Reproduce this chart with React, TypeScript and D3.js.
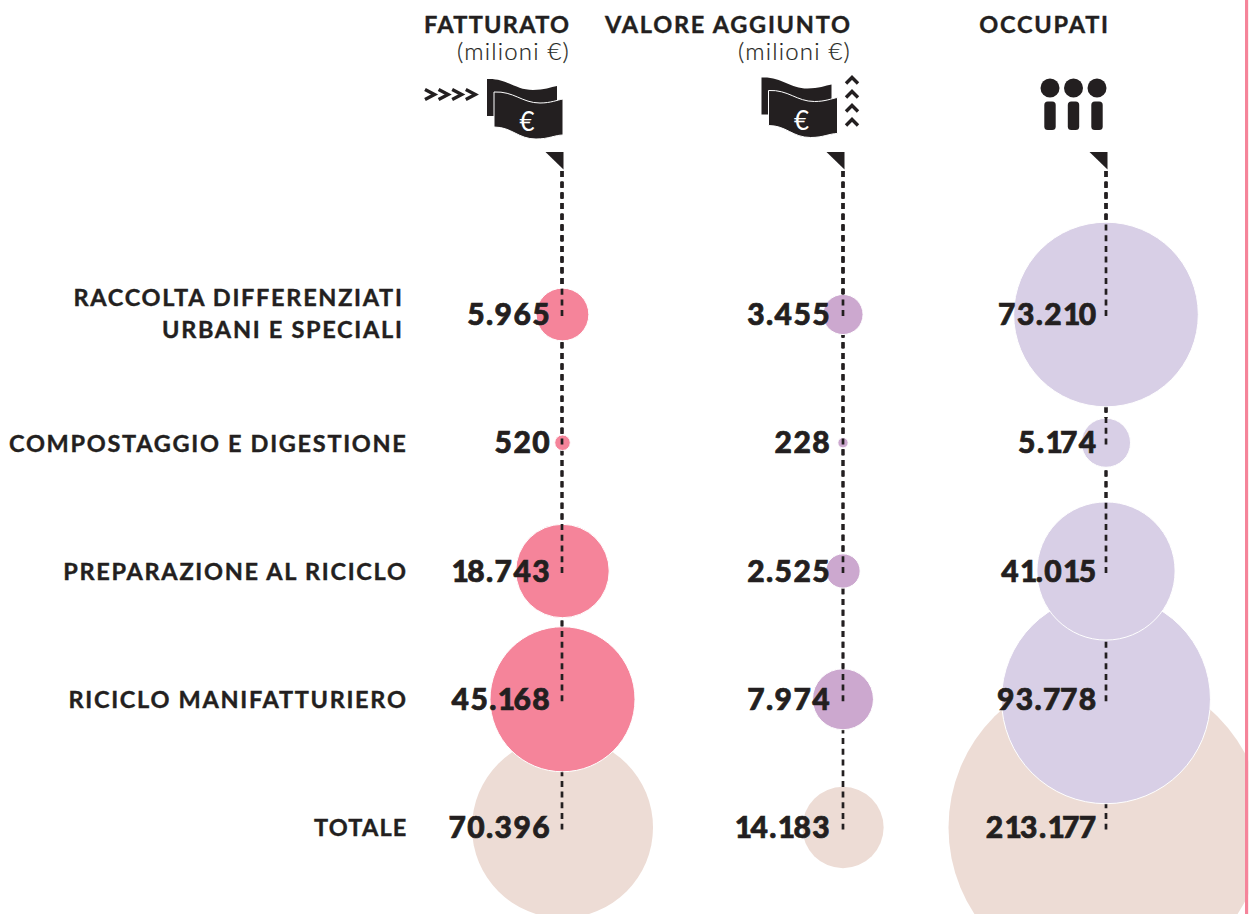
import React from "react";
import * as d3 from "d3";

const categories = ["RACCOLTA DIFFERENZIATI|URBANI E SPECIALI", "COMPOSTAGGIO E DIGESTIONE", "PREPARAZIONE AL RICICLO", "RICICLO MANIFATTURIERO", "TOTALE"];
const fatturato = [5965, 520, 18743, 45168, 70396];
const valoreAggiunto = [3455, 228, 2525, 7974, 14183];
const occupati = [73210, 5174, 41015, 93778, 213177];
const seriesTitles = ["FATTURATO", "VALORE AGGIUNTO", "OCCUPATI"];
const unitLabel = "(milioni €)";

const fmt = (v: number) => d3.format(",")(v).replace(/,/g, ".");
const INK = "#231f20";
const TOTAL = "#eddcd5";
const PINK = "#f5849a";
const columns = [
  { values: fatturato, x: 562.5, lineX: 562, color: PINK },
  { values: valoreAggiunto, x: 843, lineX: 843, color: "#cca8cf" },
  { values: occupati, x: 1106, lineX: 1106, color: "#d8cfe6" },
];
const rowY = d3.scalePoint<number>().domain([0, 1, 2, 3, 4]).range([314.5, 827.5]);
const r = d3.scaleSqrt().domain([0, 213177]).range([0, 157.5]);
const FONT = "Lato, sans-serif";

function Bills({ x, y }: { x: number; y: number }) {
  return (
    <g transform={`translate(${x},${y})`}>
      <path d="M0 0 c 20 -1 28 11 46 11 c 11 0 18 -3 24 -4 l 0 20 l -63 0 l 0 10 l -7 0 Z" fill={INK} />
      <path d="M7 13 c 20 -1 28 11 46 11 c 11 0 17 -3 23 -4 l 0 36 c -8 0 -14 4 -27 4 c -18 0 -24 -12 -42 -12 Z" fill={INK} stroke="#fff" strokeWidth={1} />
      <text x={40} y={52} textAnchor="middle" fontFamily={FONT} fontSize={26} fill="#fff">€</text>
    </g>
  );
}

function Chevrons({ x, y, dir }: { x: number; y: number; dir: "right" | "up" }) {
  return (
    <g fill="none" stroke={INK} strokeWidth={3.4}>
      {d3.range(4).map((i) =>
        dir === "right" ? (
          <path key={i} d={`M${x + i * 13.6} ${y - 5} l 9.5 5 l -9.5 5`} />
        ) : (
          <path key={i} d={`M${x - 6} ${y + i * 14 + 4.5} l 6 -6 l 6 6`} />
        )
      )}
    </g>
  );
}

function Num({ value, x, y }: { value: number; x: number; y: number }) {
  const chars = fmt(value).split("");
  return (
    <text x={x} y={y} textAnchor="end" fontFamily={FONT} fontWeight={900} fontSize={30} fill={INK} stroke={INK} strokeWidth={0.7}>
      {chars.map((c, i) => {
        const next = chars[i + 1];
        let ls = 1.4;
        if (c === "1") ls = next === "7" ? -3 : -1.8;
        else if (c === "7" && next === "7") ls = -0.6;
        return <tspan key={i} letterSpacing={ls}>{c}</tspan>;
      })}
    </text>
  );
}

export default function App() {
  return (
    <svg width={1250} height={914} style={{ position: "absolute", left: 0, top: 0, background: "#fff" }}>
      {columns.map((col, ci) => (
        <g key={ci}>
          {[4, 3, 2, 1, 0].map((ri) => (
            <g key={ri}>
              <circle cx={col.x} cy={rowY(ri)} r={r(col.values[ri])} fill={ri === 4 ? TOTAL : col.color} stroke="#fff" strokeWidth={ri === 4 ? 0 : 1} />
              <line x1={col.lineX} x2={col.lineX} y1={171} y2={rowY(ri)! + 2} stroke={INK} strokeWidth={2.7} strokeDasharray="6 4.7" />
            </g>
          ))}
          <path d={`M${col.lineX - 16.5} 152 h 18 v 17.5 Z`} fill={INK} />
        </g>
      ))}

      <rect x={1245} y={0} width={3.4} height={914} fill={PINK} />
      <rect x={1248.4} y={0} width={1.6} height={914} fill="#fff" />

      {columns.map((col, ci) =>
        col.values.map((v, ri) => (
          <Num key={`${ci}-${ri}`} value={v} x={[551, 831, 1097.5][ci]} y={rowY(ri)! + 10.5} />
        ))
      )}

      {categories.map((c, i) =>
        c.split("|").map((line, li) => (
          <text key={`${i}-${li}`} x={c.includes("|") ? 403.6 : 407.6} y={(c.includes("|") ? rowY(i)! - 9 : rowY(i)! + 8.8) + li * 32} textAnchor="end" fontFamily={FONT} fontWeight={700} fontSize={23.5} letterSpacing={i === 4 ? 1.2 : 1.7} fill={INK} stroke={INK} strokeWidth={0.4}>
            {line}
          </text>
        ))
      )}

      <g fontFamily={FONT} fill={INK} textAnchor="end">
        <text x={570.3} y={33} fontWeight={700} fontSize={23.5} letterSpacing={1.3} stroke={INK} strokeWidth={0.4}>{seriesTitles[0]}</text>
        <text x={851.7} y={33} fontWeight={700} fontSize={23.5} letterSpacing={1.75} stroke={INK} strokeWidth={0.4}>{seriesTitles[1]}</text>
        <text x={1109.8} y={33} fontWeight={700} fontSize={23.5} letterSpacing={1.8} stroke={INK} strokeWidth={0.4}>{seriesTitles[2]}</text>
        <text x={570} y={60} fontWeight={300} fontSize={24} letterSpacing={1.2} stroke={INK} strokeWidth={0.2}>{unitLabel}</text>
        <text x={851} y={60} fontWeight={300} fontSize={24} letterSpacing={1.2} stroke={INK} strokeWidth={0.2}>{unitLabel}</text>
      </g>

      <Chevrons x={425} y={94.5} dir="right" />
      <Bills x={487} y={79} />
      <Bills x={761.5} y={77.5} />
      <Chevrons x={852} y={79} dir="up" />

      <g fill={INK}>
        {[1050, 1073.5, 1097].map((x) => (
          <g key={x}>
            <circle cx={x} cy={88} r={9.5} />
            <rect x={x - 5.7} y={101.5} width={11.4} height={28.5} rx={3.5} />
          </g>
        ))}
      </g>
    </svg>
  );
}
